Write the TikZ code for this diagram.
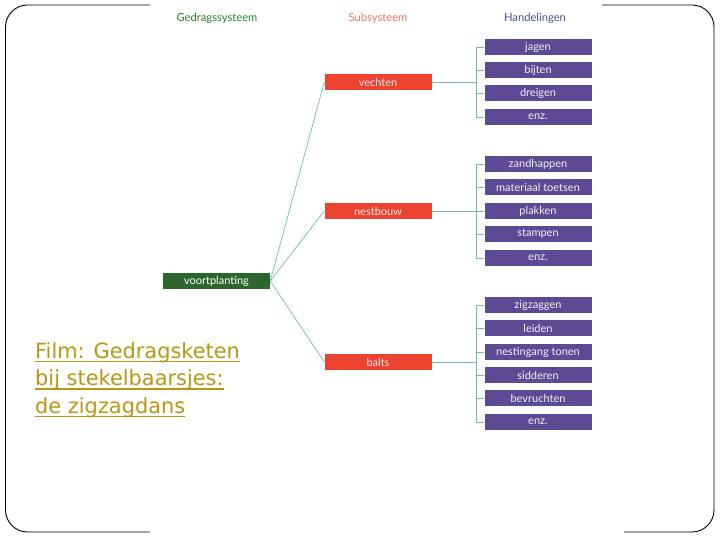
\documentclass[tikz,border=0pt]{standalone}
\usepackage{fontspec}
\newfontfamily\diagfont{Lato}
\newfontfamily\filmfont{DejaVu Sans}
\definecolor{sysgreen}{RGB}{44,102,44}
\definecolor{subred}{RGB}{236,66,48}
\definecolor{actpurple}{RGB}{92,74,148}
\definecolor{linkteal}{RGB}{110,186,176}
\definecolor{filmgold}{RGB}{186,150,18}
\tikzset{
  sysbox/.style={fill=sysgreen, text=white, minimum width=107pt, minimum height=16pt, inner sep=0pt, font=\diagfont\fontsize{11}{12}\selectfont},
  subbox/.style={fill=subred, text=white!90!subred, minimum width=107pt, minimum height=16pt, inner sep=0pt, font=\diagfont\fontsize{11}{12}\selectfont},
  actbox/.style={fill=actpurple, text=white!92!actpurple, minimum width=107pt, minimum height=16pt, inner sep=0pt, font=\diagfont\fontsize{11}{12}\selectfont},
  header/.style={font=\diagfont\fontsize{11.2}{12}\selectfont},
  link/.style={draw=linkteal, line width=0.7pt},
  filmline/.style={anchor=base west, inner sep=0pt, text=filmgold, font=\filmfont\fontsize{20.9}{24}\selectfont},
  filmrule/.style={draw=filmgold, line width=1.5pt}
}
\begin{document}
\begin{tikzpicture}[x=1pt,y=-1pt]
  \useasboundingbox (0,0) rectangle (720,540);
  % slide frame, partly hidden behind the scan
  \draw[line width=0.9pt, rounded corners=22pt] (150,5) -- (5.5,5) -- (5.5,532) -- (150,532);
  \draw[line width=0.9pt, rounded corners=22pt] (602,5) -- (714,5) -- (714,532) -- (624,532);

  % column headings
  \node[header, text=sysgreen!80!green] (hsys) at (217,18) {Gedragssysteem};
  \node[header, text=subred!75!white] (hsub) at (378,18) {Subsysteem};
  \node[header, text=black!60!blue!70!white] (hact) at (535,18) {Handelingen};

  % systems and subsystems
  \node[sysbox] (voortplanting) at (216.5,281) {voortplanting};
  \node[subbox] (vechten) at (378,82) {vechten};
  \node[subbox] (nestbouw) at (378,211) {nestbouw};
  \node[subbox] (balts) at (378,362) {balts};

  \draw[link] (voortplanting.east) -- (vechten.west);
  \draw[link] (voortplanting.east) -- (nestbouw.west);
  \draw[link] (voortplanting.east) -- (balts.west);

  % actions
  \foreach \name/\txt/\y in {jagen/jagen/47, bijten/bijten/70, dreigen/dreigen/93, enza/enz./117,
      zandhappen/zandhappen/164, toetsen/materiaal toetsen/187, plakken/plakken/211,
      stampen/stampen/234, enzb/enz./258,
      zigzaggen/zigzaggen/305, leiden/leiden/328, tonen/nestingang tonen/352,
      sidderen/sidderen/375, bevruchten/bevruchten/398, enzc/enz./422}
    \node[actbox] (\name) at (538,\y) {\txt};

  % brackets
  \coordinate (ba) at (476,82);
  \coordinate (bb) at (476,211);
  \coordinate (bc) at (476,362);
  \draw[link] (vechten.east) -- (ba);
  \draw[link] (nestbouw.east) -- (bb);
  \draw[link] (balts.east) -- (bc);
  \draw[link] (jagen.west -| ba) -- (enza.west -| ba);
  \draw[link] (zandhappen.west -| bb) -- (enzb.west -| bb);
  \draw[link] (zigzaggen.west -| bc) -- (enzc.west -| bc);
  \foreach \n in {jagen,bijten,dreigen,enza}
    \draw[link] (\n.west -| ba) -- (\n.west);
  \foreach \n in {zandhappen,toetsen,plakken,stampen,enzb}
    \draw[link] (\n.west -| bb) -- (\n.west);
  \foreach \n in {zigzaggen,leiden,tonen,sidderen,bevruchten,enzc}
    \draw[link] (\n.west -| bc) -- (\n.west);

  % film link
  \node[filmline] (filma) at (35,358) {Film: Gedragsketen};
  \node[filmline] (filmb) at (35,385.5) {bij stekelbaarsjes:};
  \node[filmline] (filmc) at (35,413) {de zigzagdans};
  \foreach \n in {filma,filmb,filmc}
    \draw[filmrule] ([yshift=-3.5pt]\n.base west) -- ([yshift=-3.5pt]\n.base east);
\end{tikzpicture}
\end{document}
